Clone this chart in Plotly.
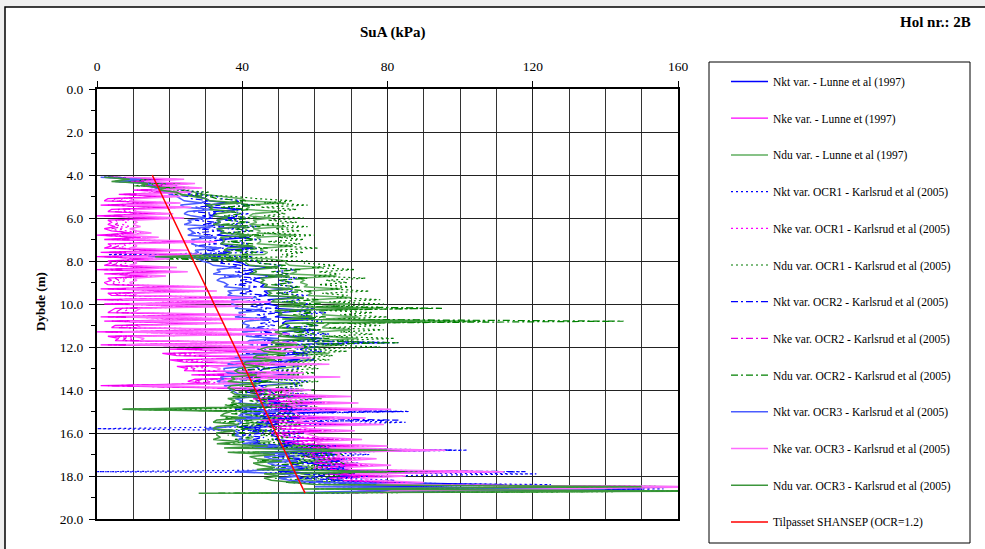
import plotly.graph_objects as go

# Sampling depths (m), every 0.1 m from 4.1 to 18.8
depth = [round(4.1 + 0.1 * i, 1) for i in range(148)]

# --- Lunne et al (1997) ---
su_nkt_lunne = [
    3, 18, 6, 20, 22, 21, 24, 26, 25, 28,
    30, 31, 36, 30, 31, 40, 32, 33, 31, 38,
    33, 34, 32, 41, 33, 34, 35, 33, 42, 34,
    35, 34, 36, 43, 35, 36, 34, 14, 36, 37,
    40, 41, 48, 42, 43, 41, 50, 44, 43, 45,
    46, 45, 53, 46, 47, 46, 55, 47, 48, 47,
    50, 49, 58, 50, 51, 49, 60, 52, 51, 53,
    52, 60, 51, 53, 52, 62, 53, 52, 54, 53,
    52, 51, 58, 50, 49, 56, 48, 47, 52, 46,
    45, 46, 52, 44, 45, 43, 54, 45, 46, 47,
    48, 49, 56, 48, 50, 49, 58, 50, 51, 66,
    50, 49, 56, 48, 50, 49, 47, 40, 48, 49,
    48, 50, 49, 55, 50, 62, 54, 80, 57, 66,
    58, 60, 68, 59, 61, 70, 60, 50, 64, 70,
    63, 66, 78, 112, 72, 150, 88, 58,
]
su_nke_lunne = [
    3, 22, 8, 25, 14, 27, 10, 24, 6, 20,
    3, 2, 18, 1, 21, 4, 3, 16, 0, 19,
    3, 4, 3, 5, 2, 4, 10, 0, 12, 2,
    28, 3, 4, 2, 20, 1, 24, 0, 15, 3,
    4, 2, 17, 0, 20, 2, 14, 3, 4, 2,
    3, 25, 1, 28, 3, 4, 38, 0, 44, 2,
    35, 5, 4, 3, 36, 1, 40, 2, 30, 5,
    4, 45, 0, 48, 3, 6, 5, 50, 1, 52,
    20, 45, 18, 22, 50, 20, 24, 55, 22, 25,
    24, 48, 26, 58, 27, 25, 30, 1, 32, 50,
    42, 44, 60, 43, 45, 62, 44, 46, 72, 45,
    46, 47, 65, 45, 48, 70, 47, 49, 62, 48,
    50, 52, 64, 51, 53, 70, 55, 90, 56, 58,
    57, 68, 58, 60, 72, 59, 61, 105, 62, 76,
    64, 66, 80, 68, 165, 110, 72, 70,
]
su_ndu_lunne = [
    5, 14, 6, 20, 18, 25, 23, 27, 29, 34,
    40, 41, 52, 40, 42, 41, 50, 43, 42, 48,
    43, 44, 42, 52, 43, 45, 44, 55, 44, 45,
    45, 44, 54, 46, 45, 47, 46, 22, 47, 52,
    52, 53, 62, 54, 55, 53, 66, 56, 57, 56,
    58, 57, 67, 58, 59, 58, 70, 60, 59, 70,
    62, 78, 61, 63, 62, 72, 63, 104, 64, 63,
    62, 70, 61, 63, 62, 72, 61, 60, 68, 59,
    56, 57, 64, 55, 54, 60, 52, 51, 56, 50,
    48, 49, 55, 47, 48, 46, 56, 47, 46, 48,
    46, 47, 54, 45, 47, 46, 55, 44, 8, 46,
    44, 43, 50, 42, 41, 48, 42, 41, 47, 42,
    42, 43, 41, 48, 42, 58, 44, 85, 45, 60,
    52, 54, 62, 53, 55, 60, 54, 88, 56, 60,
    56, 58, 66, 72, 160, 68, 165, 38,
]

# --- Karlsrud et al (2005), OCR1 ---
su_nkt_ocr1 = [
    2, 16, 10, 21, 18, 25, 22, 29, 27, 33,
    34, 40, 36, 43, 35, 39, 34, 42, 37, 41,
    35, 42, 37, 44, 36, 43, 34, 41, 36, 45,
    37, 42, 35, 44, 38, 46, 3, 43, 37, 44,
    45, 51, 47, 55, 49, 53, 46, 56, 50, 54,
    49, 55, 51, 54, 50, 58, 52, 56, 51, 59,
    53, 60, 52, 63, 56, 59, 54, 62, 57, 61,
    54, 61, 56, 64, 53, 60, 58, 83, 55, 61,
    55, 62, 52, 58, 56, 60, 50, 57, 54, 56,
    49, 56, 52, 55, 48, 58, 53, 56, 50, 59,
    51, 58, 50, 61, 55, 62, 51, 59, 48, 86,
    52, 60, 50, 58, 85, 61, 49, 0, 52, 57,
    51, 57, 54, 56, 52, 66, 56, 102, 60, 75,
    61, 69, 64, 72, 62, 70, 66, 0, 121, 76,
    66, 82, 64, 125, 80, 156, 95, 64,
]
su_nke_ocr1 = [
    6, 20, 11, 24, 16, 26, 13, 23, 9, 21,
    7, 6, 21, 5, 24, 8, 7, 19, 4, 22,
    7, 8, 7, 9, 6, 8, 13, 4, 15, 6,
    31, 7, 8, 6, 23, 5, 27, 4, 18, 7,
    8, 6, 20, 4, 23, 6, 17, 7, 8, 6,
    7, 28, 5, 31, 7, 8, 41, 4, 47, 6,
    38, 9, 8, 7, 39, 5, 43, 6, 33, 9,
    8, 48, 4, 51, 7, 10, 9, 53, 5, 55,
    25, 50, 23, 27, 55, 25, 29, 60, 27, 30,
    29, 53, 31, 63, 32, 30, 35, 6, 37, 55,
    47, 49, 66, 48, 50, 68, 49, 51, 77, 50,
    51, 52, 70, 50, 53, 75, 52, 54, 67, 53,
    55, 57, 69, 56, 58, 76, 60, 94, 61, 63,
    62, 73, 63, 65, 77, 64, 66, 110, 67, 81,
    69, 71, 86, 73, 165, 115, 77, 74,
]
su_ndu_ocr1 = [
    4, 15, 7, 23, 14, 28, 21, 31, 26, 38,
    44, 54, 46, 58, 45, 55, 48, 52, 46, 57,
    47, 55, 45, 58, 49, 56, 46, 60, 50, 57,
    47, 56, 50, 61, 48, 57, 51, 55, 24, 58,
    57, 66, 59, 71, 61, 67, 60, 74, 63, 69,
    61, 70, 64, 75, 62, 69, 66, 78, 64, 79,
    65, 90, 63, 76, 67, 80, 66, 108, 69, 78,
    64, 79, 67, 76, 63, 82, 66, 75, 62, 78,
    58, 69, 54, 65, 57, 64, 53, 62, 56, 61,
    51, 60, 54, 58, 50, 61, 53, 57, 49, 60,
    48, 58, 46, 62, 52, 57, 44, 61, 10, 56,
    46, 57, 44, 54, 42, 56, 47, 52, 43, 51,
    45, 53, 47, 52, 44, 63, 48, 90, 46, 68,
    56, 66, 54, 71, 58, 64, 55, 92, 60, 67,
    58, 68, 62, 78, 165, 73, 170, 44,
]

# --- Karlsrud et al (2005), OCR2 ---
su_nkt_ocr2 = [
    2, 11, 6, 15, 12, 19, 15, 22, 20, 25,
    26, 31, 28, 34, 27, 30, 26, 33, 29, 32,
    27, 33, 29, 35, 28, 34, 26, 32, 28, 36,
    29, 33, 27, 35, 30, 37, 28, 34, 29, 35,
    34, 40, 36, 44, 38, 42, 35, 45, 39, 43,
    38, 44, 40, 43, 39, 47, 41, 45, 40, 48,
    42, 48, 41, 51, 44, 47, 42, 50, 45, 49,
    43, 50, 45, 52, 42, 48, 46, 80, 44, 49,
    44, 51, 41, 47, 45, 49, 39, 46, 43, 45,
    38, 45, 41, 44, 37, 47, 42, 45, 39, 48,
    41, 47, 40, 50, 44, 51, 41, 48, 38, 84,
    42, 49, 40, 83, 44, 50, 39, 45, 42, 46,
    40, 46, 43, 45, 42, 54, 45, 98, 49, 61,
    50, 57, 52, 60, 51, 58, 54, 118, 57, 63,
    55, 68, 52, 104, 66, 150, 82, 53,
]
su_nke_ocr2 = [
    4, 18, 9, 22, 13, 24, 11, 21, 7, 18,
    5, 4, 16, 3, 19, 6, 5, 14, 2, 17,
    5, 6, 5, 7, 4, 6, 8, 2, 10, 4,
    26, 5, 6, 4, 18, 3, 22, 2, 13, 5,
    6, 4, 15, 2, 18, 4, 12, 5, 6, 4,
    5, 23, 3, 26, 5, 6, 36, 2, 42, 4,
    33, 7, 6, 5, 34, 3, 38, 4, 28, 7,
    6, 43, 2, 46, 5, 8, 7, 48, 3, 50,
    22, 47, 20, 24, 52, 22, 26, 57, 24, 27,
    26, 50, 28, 60, 29, 27, 32, 3, 34, 52,
    44, 46, 63, 45, 47, 65, 46, 48, 74, 47,
    48, 49, 67, 47, 50, 72, 49, 51, 64, 50,
    52, 54, 66, 53, 55, 72, 57, 92, 58, 60,
    59, 70, 60, 62, 74, 61, 63, 108, 64, 78,
    66, 68, 83, 70, 160, 112, 74, 71,
]
su_ndu_ocr2 = [
    3, 11, 5, 17, 10, 22, 16, 25, 21, 31,
    33, 41, 35, 45, 34, 42, 37, 40, 35, 44,
    36, 42, 34, 45, 38, 43, 35, 46, 39, 44,
    36, 43, 39, 47, 37, 44, 40, 42, 18, 45,
    44, 52, 46, 56, 48, 53, 47, 58, 50, 54,
    48, 56, 51, 59, 49, 55, 53, 61, 51, 62,
    52, 95, 50, 60, 54, 63, 53, 145, 56, 61,
    51, 62, 54, 60, 50, 64, 53, 83, 49, 61,
    47, 55, 43, 52, 46, 51, 42, 49, 45, 48,
    40, 47, 43, 45, 39, 48, 42, 44, 38, 47,
    39, 47, 37, 49, 42, 46, 35, 48, 7, 45,
    37, 46, 35, 43, 33, 45, 38, 42, 34, 41,
    36, 42, 38, 41, 35, 50, 39, 88, 37, 53,
    46, 54, 44, 57, 48, 52, 45, 85, 50, 55,
    49, 57, 52, 63, 160, 60, 165, 33,
]

# --- Karlsrud et al (2005), OCR3 ---
su_nkt_ocr3 = [
    1, 12, 5, 14, 15, 16, 18, 19, 20, 22,
    23, 24, 29, 23, 24, 32, 25, 24, 26, 30,
    25, 26, 24, 32, 25, 26, 27, 25, 33, 26,
    27, 26, 28, 34, 27, 28, 26, 25, 28, 29,
    31, 32, 38, 33, 34, 32, 40, 34, 33, 35,
    36, 35, 42, 36, 37, 36, 44, 37, 38, 37,
    39, 38, 46, 39, 40, 38, 48, 41, 40, 42,
    41, 48, 40, 42, 41, 50, 42, 41, 43, 42,
    41, 40, 47, 39, 38, 45, 37, 36, 41, 35,
    35, 36, 41, 34, 35, 33, 43, 35, 36, 37,
    38, 39, 45, 38, 40, 39, 47, 40, 41, 50,
    40, 39, 45, 38, 40, 39, 37, 30, 38, 39,
    38, 40, 39, 44, 40, 50, 43, 62, 45, 53,
    46, 48, 55, 47, 49, 56, 48, 38, 51, 56,
    50, 53, 62, 95, 60, 140, 75, 48,
]
su_nke_ocr3 = [
    8, 24, 13, 27, 18, 29, 15, 26, 11, 23,
    10, 9, 23, 8, 26, 11, 10, 21, 7, 24,
    10, 11, 10, 12, 9, 11, 15, 7, 17, 9,
    33, 10, 11, 9, 25, 8, 29, 7, 20, 10,
    11, 9, 22, 7, 25, 9, 19, 10, 11, 9,
    10, 30, 8, 33, 10, 11, 43, 7, 49, 9,
    40, 12, 11, 10, 41, 8, 45, 9, 35, 12,
    11, 50, 7, 53, 10, 13, 12, 55, 8, 57,
    29, 54, 27, 31, 59, 29, 33, 64, 31, 34,
    33, 57, 35, 67, 36, 34, 39, 10, 41, 59,
    51, 53, 70, 52, 54, 72, 53, 55, 81, 54,
    55, 56, 74, 54, 57, 79, 56, 58, 71, 57,
    59, 61, 73, 60, 62, 80, 64, 96, 65, 67,
    66, 77, 67, 69, 81, 68, 70, 112, 71, 85,
    73, 75, 90, 77, 170, 120, 81, 78,
]
su_ndu_ocr3 = [
    2, 9, 4, 14, 12, 19, 17, 22, 23, 27,
    30, 31, 40, 30, 32, 31, 38, 33, 32, 36,
    33, 34, 32, 41, 33, 35, 34, 43, 34, 35,
    35, 34, 43, 36, 35, 37, 36, 16, 37, 41,
    41, 42, 50, 43, 44, 42, 53, 45, 46, 45,
    47, 46, 54, 47, 48, 47, 57, 49, 48, 57,
    50, 72, 49, 51, 50, 59, 51, 90, 52, 51,
    50, 57, 49, 51, 50, 59, 49, 48, 55, 47,
    45, 46, 52, 44, 43, 49, 41, 40, 45, 39,
    38, 39, 44, 37, 38, 36, 45, 37, 36, 38,
    37, 38, 44, 36, 38, 37, 45, 35, 7, 37,
    35, 34, 41, 33, 32, 39, 33, 32, 38, 33,
    33, 34, 32, 39, 33, 47, 35, 80, 36, 49,
    42, 44, 51, 43, 45, 49, 44, 80, 46, 50,
    46, 48, 55, 60, 150, 57, 160, 28,
]

# Fitted SHANSEP profile (OCR = 1.2)
shansep_depth = [4.0, 8.0, 12.0, 16.0, 18.8]
shansep_su = [15.2, 26.5, 37.9, 49.3, 57.3]

series = [
    ("Nkt var. - Lunne et al (1997)", su_nkt_lunne, "#0000ff", "solid", 1.3),
    ("Nke var. - Lunne et (1997)", su_nke_lunne, "#ff00ff", "solid", 1.3),
    ("Ndu var. - Lunne et al (1997)", su_ndu_lunne, "#5fae5f", "solid", 1.5),
    ("Nkt var. OCR1 - Karlsrud et al (2005)", su_nkt_ocr1, "#0000ff", "2px,3px", 1.2),
    ("Nke var. OCR1 - Karlsrud et al (2005)", su_nke_ocr1, "#ff00ff", "2px,3px", 1.2),
    ("Ndu var. OCR1 - Karlsrud et al (2005)", su_ndu_ocr1, "#007a00", "2px,3px", 1.2),
    ("Nkt var. OCR2 - Karlsrud et al (2005)", su_nkt_ocr2, "#0000ff", "7px,3px,2px,3px", 1.2),
    ("Nke var. OCR2 - Karlsrud et al (2005)", su_nke_ocr2, "#e600e6", "7px,3px,2px,3px", 1.2),
    ("Ndu var. OCR2 - Karlsrud et al (2005)", su_ndu_ocr2, "#008000", "7px,3px,2px,3px", 1.2),
    ("Nkt var. OCR3 - Karlsrud et al (2005)", su_nkt_ocr3, "#4a5cff", "solid", 1.5),
    ("Nke var. OCR3 - Karlsrud et al (2005)", su_nke_ocr3, "#ff6cff", "solid", 1.5),
    ("Ndu var. OCR3 - Karlsrud et al (2005)", su_ndu_ocr3, "#3c963c", "solid", 1.5),
]
for _name, _su, *_ in series:
    assert len(_su) == len(depth), _name

FONT = "Liberation Serif"

fig = go.Figure()
for i, (name, su, color, dash, width) in enumerate(series):
    fig.add_trace(go.Scatter(
        x=su, y=depth, mode="lines", name=name,
        line=dict(color=color, dash=dash, width=width),
        legendgroup=f"g{i}",
    ))
fig.add_trace(go.Scatter(
    x=shansep_su, y=shansep_depth, mode="lines",
    name="Tilpasset SHANSEP (OCR=1.2)",
    line=dict(color="#ff0000", width=1.5),
    legendgroup="g12",
))

# plot area: x 97..678 px, y 89..519 px
L, R, T, B = 97, 678, 89, 519
W, H = 985, 549
pw, ph = R - L, B - T


def px(xp):
    return (xp - L) / pw


def py(yp):
    return (B - yp) / ph


fig.update_layout(
    width=W, height=H,
    margin=dict(l=L, r=W - R, t=T, b=H - B, pad=0),
    paper_bgcolor="#efefef",
    plot_bgcolor="white",
    font=dict(family=FONT, size=13, color="black"),
    showlegend=True,
    legend=dict(
        x=px(726), y=py(67), xanchor="left", yanchor="top",
        font=dict(family=FONT, size=11.5, color="black"),
        bgcolor="rgba(0,0,0,0)", borderwidth=0,
        tracegroupgap=17.7, itemwidth=37,
        traceorder="grouped", maxheight=520,
    ),
    xaxis=dict(
        side="top", range=[0, 160], tickvals=[0, 40, 80, 120, 160],
        ticks="outside", ticklen=6, tickcolor="black",
        showline=True, linecolor="black", linewidth=2, mirror=True,
        showgrid=True, gridcolor="#222", gridwidth=1,
        minor=dict(dtick=10, showgrid=True, gridcolor="#333", gridwidth=1),
        zeroline=False, tickfont=dict(family=FONT, size=13.5),
        ticklabelstandoff=5,
    ),
    yaxis=dict(
        range=[20, 0], tickvals=[0, 2, 4, 6, 8, 10, 12, 14, 16, 18, 20],
        tickformat=".1f",
        ticks="outside", ticklen=6, tickcolor="black",
        showline=True, linecolor="black", linewidth=2, mirror=True,
        showgrid=True, gridcolor="#222", gridwidth=1,
        minor=dict(tickvals=[1, 3, 5, 7, 9, 11, 13, 15, 17, 19],
                   ticks="outside", ticklen=4, tickcolor="black", showgrid=False),
        zeroline=False, tickfont=dict(family=FONT, size=13.5),
        ticklabelstandoff=3,
    ),
    shapes=[
        # outer chart frame
        dict(type="rect", xref="paper", yref="paper", layer="below",
             x0=px(5), x1=px(992), y0=py(560), y1=py(7),
             line=dict(color="black", width=1.5), fillcolor="white"),
        # legend frame
        dict(type="rect", xref="paper", yref="paper", layer="above",
             x0=px(709), x1=px(970), y0=py(543), y1=py(62),
             line=dict(color="black", width=1), fillcolor="rgba(0,0,0,0)"),
    ],
    annotations=[
        dict(text="<b>SuA (kPa)</b>", xref="paper", yref="paper",
             x=px(392), y=py(33), xanchor="center", yanchor="middle",
             showarrow=False, font=dict(family=FONT, size=15)),
        dict(text="<b>Dybde (m)</b>", xref="paper", yref="paper",
             x=px(40), y=py(301), xanchor="center", yanchor="middle",
             showarrow=False, textangle=-90,
             font=dict(family=FONT, size=13)),
        dict(text="<b>Hol nr.: 2B</b>", xref="paper", yref="paper",
             x=px(973), y=py(22), xanchor="right", yanchor="middle",
             showarrow=False, font=dict(family=FONT, size=15)),
    ],
)

fig.write_html("out.html")
